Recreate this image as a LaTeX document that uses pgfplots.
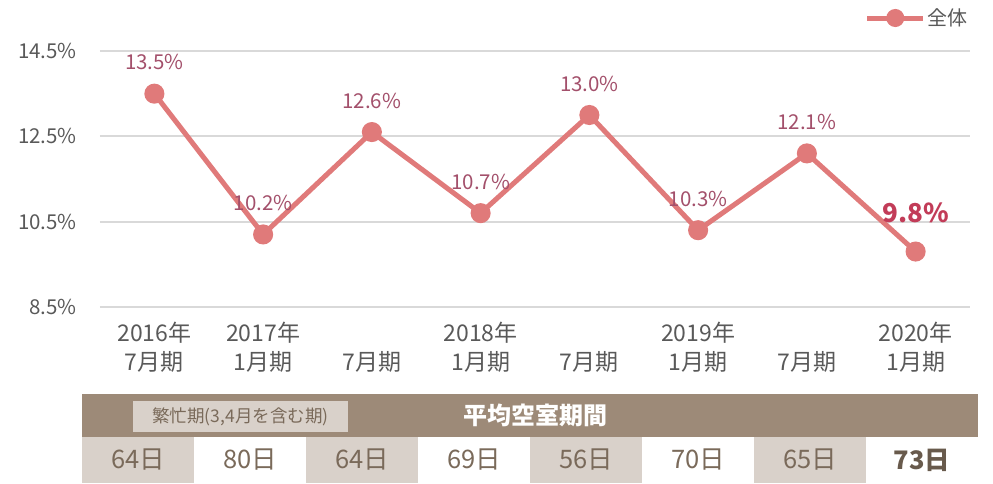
\documentclass[border=0pt]{standalone}
\usepackage{fontspec}
\setmainfont{Noto Sans CJK JP}
\usepackage{pgfplots}
\pgfplotsset{compat=1.18}

\definecolor{linec}{HTML}{E07A7A}
\definecolor{lblc}{HTML}{A3506B}
\definecolor{hic}{HTML}{C23C58}
\definecolor{gridc}{HTML}{D9D9D9}
\definecolor{tickc}{HTML}{595959}
\definecolor{bandc}{HTML}{9D8A78}
\definecolor{cellc}{HTML}{D9D1CA}
\definecolor{celltxt}{HTML}{7A6A5A}

\newcommand{\emptyline}{\vphantom{2016年}}

\begin{document}
\begin{tikzpicture}
% page = 993 x 483 px, 1px = 1pt, axis box lower left at (100px,307px)
\path[use as bounding box] (-100pt,-176pt) rectangle (893pt,307pt);
\begin{axis}[
  at={(0pt,0pt)}, anchor=south west,
  scale only axis, width=870pt, height=256pt,
  xmin=-0.5, xmax=7.5, ymin=8.5, ymax=14.5,
  axis line style={draw=none},
  major tick length=0pt,
  ymajorgrids, grid style={gridc, line width=2pt},
  ytick={8.5,10.5,12.5,14.5},
  yticklabels={8.5\%,10.5\%,12.5\%,14.5\%},
  xtick={0,...,7},
  xticklabels={{2016年\\7月期},{2017年\\1月期},{\emptyline\\7月期},{2018年\\1月期},
               {\emptyline\\7月期},{2019年\\1月期},{\emptyline\\7月期},{2020年\\1月期}},
  ticklabel style={inner sep=0pt, text=tickc},
  yticklabel style={font=\fontsize{20.5}{24}\selectfont, anchor=east, xshift=-23pt},
  xticklabel style={font=\fontsize{23}{29}\selectfont, align=center, anchor=north, yshift=-15pt},
  /pgf/number format/assume math mode=true,
  clip=false,
  legend style={at={(1,1)}, anchor=east, yshift=33pt, draw=none, fill=none,
    inner sep=0pt, font=\fontsize{20}{22}\selectfont, text=tickc,
    /tikz/every even column/.append style={column sep=4pt}},
  legend image code/.code={
    \draw[linec, line width=5pt] (0pt,0pt)--(56pt,0pt);
    \fill[linec] (28pt,0pt) circle (6.5pt);},
]
\addplot[linec, line width=5pt, mark=*, mark size=7.5pt,
  mark options={fill=linec, draw=none}]
  coordinates {(0,13.5)(1,10.2)(2,12.6)(3,10.7)(4,13.0)(5,10.3)(6,12.1)(7,9.8)};
\addlegendentry{全体}

% data labels
\addplot[draw=none, mark=none, forget plot, point meta=y,
  nodes near coords={\pgfmathprintnumber[fixed,fixed zerofill,precision=1]{\pgfplotspointmeta}\%},
  every node near coord/.append style={anchor=base, yshift=24pt, inner sep=0pt,
    text=lblc, font=\fontsize{20.5}{24}\selectfont}]
  coordinates {(0,13.5)(1,10.2)(2,12.6)(3,10.7)(4,13.0)(5,10.3)(6,12.1)};
\addplot[draw=none, mark=none, forget plot, point meta=y,
  nodes near coords={\pgfmathprintnumber[fixed,fixed zerofill,precision=1]{\pgfplotspointmeta}\%},
  every node near coord/.append style={anchor=base, yshift=29pt, inner sep=0pt,
    text=hic, font=\bfseries\fontsize{26}{30}\selectfont}]
  coordinates {(7,9.8)};
\end{axis}

% table of average vacancy periods
\begin{scope}[x=1pt, y=1pt]
\fill[bandc] (-18,-87) rectangle (878,-130);
\fill[cellc] (33,-94) rectangle (248,-125);
\node[text=celltxt, font=\fontsize{17.5}{20}\selectfont] at (140.5,-109.5) {繁忙期(3,4月を含む期)};
\node[text=white, font=\bfseries\fontsize{24}{26}\selectfont] at (435,-108.5) {平均空室期間};
\foreach \d [count=\i from 0] in {64,80,64,69,56,70,65} {
  \pgfmathsetmacro{\xl}{-18+112*\i}
  \ifodd\i\else\fill[cellc] (\xl,-130) rectangle ({\xl+112},-176);\fi
  \node[text=celltxt, font=\fontsize{25.5}{28}\selectfont] at ({\xl+56},-153) {\d 日};
}
\node[text=celltxt!85!black, font=\bfseries\fontsize{25.5}{28}\selectfont] at ({-18+112*7+56},-153) {73日};
\end{scope}
\end{tikzpicture}
\end{document}
